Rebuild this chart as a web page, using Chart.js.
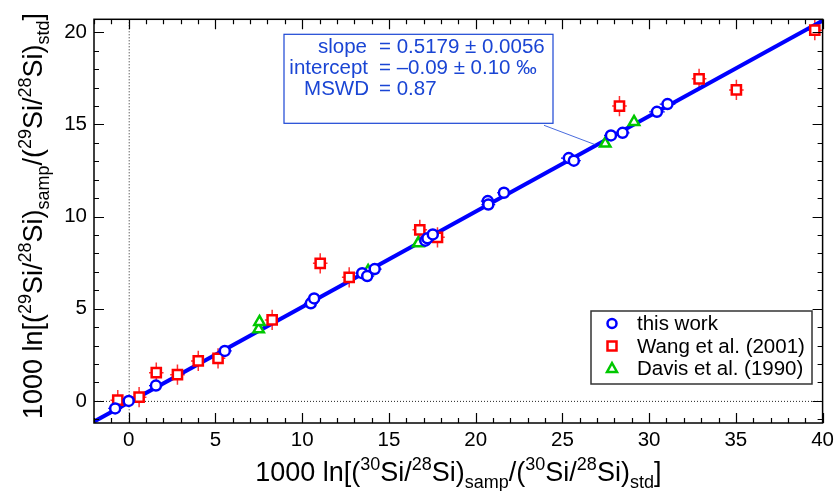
<!DOCTYPE html>
<html lang="en">
<head>
  <meta charset="UTF-8">
  <title>Si three-isotope plot</title>
  <script src="https://cdn.jsdelivr.net/npm/chart.js"></script>
  <style>
    body { margin: 0; background: #fff; }
    #wrap { width: 839px; height: 491px; }
  </style>
</head>
<body>
<div id="wrap"><canvas id="chart"></canvas></div>

<script>
// delta-30 (x) and delta-29 (y), per mil
const thisWorkX = [-0.78, 0.0, 1.57, 5.54, 10.5, 10.69, 13.46, 13.75, 14.18, 17.1, 17.22, 17.53, 20.7, 20.73, 21.63, 25.37, 25.66, 27.8, 28.47, 30.45, 31.06];
const thisWorkY = [-0.41, 0.0, 0.83, 2.71, 5.29, 5.56, 6.93, 6.77, 7.15, 8.69, 8.82, 9.03, 10.84, 10.65, 11.29, 13.17, 13.03, 14.4, 14.54, 15.68, 16.1];
const thisWorkErrX = [0.4, 0.4, 0.4, 0.4, 0.4, 0.4, 0.4, 0.4, 0.4, 0.4, 0.4, 0.4, 0.4, 0.4, 0.4, 0.45, 0.4, 0.4, 0.4, 0.45, 0.45];
const thisWorkErrY = [0.12, 0.12, 0.12, 0.12, 0.12, 0.12, 0.12, 0.12, 0.12, 0.12, 0.12, 0.12, 0.12, 0.12, 0.12, 0.12, 0.12, 0.12, 0.12, 0.12, 0.12];

const wangX = [-0.63, 0.6, 1.59, 2.81, 4.01, 5.15, 8.27, 11.04, 12.71, 16.78, 17.8, 28.29, 32.88, 35.03, 39.55];
const wangY = [0.04, 0.2, 1.53, 1.42, 2.17, 2.31, 4.39, 7.46, 6.7, 9.28, 8.87, 15.99, 17.47, 16.87, 20.11];
const wangErrX = [0.42, 0.42, 0.42, 0.42, 0.42, 0.42, 0.42, 0.42, 0.42, 0.42, 0.42, 0.42, 0.42, 0.42, 0.42];
const wangErrY = [0.55, 0.55, 0.55, 0.55, 0.55, 0.55, 0.55, 0.55, 0.55, 0.55, 0.55, 0.55, 0.55, 0.55, 0.55];

const davisX = [7.49, 7.54, 13.8, 16.69, 27.47, 29.13];
const davisY = [3.89, 4.28, 7.05, 8.55, 13.96, 15.13];

// regression through all points
const slope = 0.5179;
const intercept = -0.09;
const fitX = [-2, 40];

const xTicks = [0, 5, 10, 15, 20, 25, 30, 35, 40];
const yTicks = [0, 5, 10, 15, 20];
const xRange = [-2, 40];
const yRange = [-1.2, 20.7];

const FONT = '"Liberation Sans", Arial, Helvetica, sans-serif';
const BLUE = '#0000ff';
const RED = '#ff0000';
const GREEN = '#00c800';
const NOTE = '#1a45d4';

function pts(xs, ys) {
  return xs.map((x, i) => ({ x: x, y: ys[i] }));
}

// draw a string made of normal / sup / sub runs, centred on cx
function drawRich(ctx, parts, cx, baseY, size) {
  const small = Math.round(size * 0.68);
  let w = 0;
  parts.forEach(p => {
    ctx.font = (p[1] ? small : size) + 'px ' + FONT;
    w += ctx.measureText(p[0]).width;
  });
  let x = cx - w / 2;
  ctx.textAlign = 'left';
  ctx.textBaseline = 'alphabetic';
  parts.forEach(p => {
    ctx.font = (p[1] ? small : size) + 'px ' + FONT;
    let dy = 0;
    if (p[1] === 'sup') dy = -size * 0.42;
    if (p[1] === 'sub') dy = size * 0.26;
    ctx.fillText(p[0], x, baseY + dy);
    x += ctx.measureText(p[0]).width;
  });
}

const xTitle = [['1000 ln[(', ''], ['30', 'sup'], ['Si/', ''], ['28', 'sup'], ['Si)', ''], ['samp', 'sub'],
  ['/(', ''], ['30', 'sup'], ['Si/', ''], ['28', 'sup'], ['Si)', ''], ['std', 'sub'], [']', '']];
const yTitle = [['1000 ln[(', ''], ['29', 'sup'], ['Si/', ''], ['28', 'sup'], ['Si)', ''], ['samp', 'sub'],
  ['/(', ''], ['29', 'sup'], ['Si/', ''], ['28', 'sup'], ['Si)', ''], ['std', 'sub'], [']', '']];

function drawMarker(ctx, style, x, y, color) {
  ctx.save();
  ctx.strokeStyle = color;
  ctx.fillStyle = '#fff';
  ctx.lineWidth = 2.5;
  ctx.beginPath();
  if (style === 'circle') {
    ctx.arc(x, y, 4.5, 0, Math.PI * 2);
  } else if (style === 'rect') {
    ctx.rect(x - 4.5, y - 4.5, 9, 9);
  } else {
    ctx.moveTo(x, y - 5.5);
    ctx.lineTo(x + 5, y + 3.5);
    ctx.lineTo(x - 5, y + 3.5);
    ctx.closePath();
  }
  ctx.fill();
  ctx.stroke();
  ctx.restore();
}

const framePlugin = {
  id: 'frame',
  beforeDatasetsDraw(chart) {
    const { ctx, chartArea: a, scales: { x, y } } = chart;
    ctx.save();
    // zero lines
    ctx.strokeStyle = '#222';
    ctx.lineWidth = 1;
    ctx.setLineDash([1, 2]);
    ctx.beginPath();
    ctx.moveTo(x.getPixelForValue(0) + 0.5, a.top);
    ctx.lineTo(x.getPixelForValue(0) + 0.5, a.bottom);
    ctx.moveTo(a.left, y.getPixelForValue(0) + 0.5);
    ctx.lineTo(a.right, y.getPixelForValue(0) + 0.5);
    ctx.stroke();
    ctx.setLineDash([]);

    // error bars
    const bars = [
      [thisWorkX, thisWorkY, thisWorkErrX, thisWorkErrY, BLUE, 1.2],
      [wangX, wangY, wangErrX, wangErrY, '#ff3030', 1.5]
    ];
    bars.forEach(b => {
      ctx.strokeStyle = b[4];
      ctx.lineWidth = b[5];
      ctx.beginPath();
      b[0].forEach((vx, i) => {
        const vy = b[1][i];
        const px = x.getPixelForValue(vx), py = y.getPixelForValue(vy);
        ctx.moveTo(x.getPixelForValue(vx - b[2][i]), py);
        ctx.lineTo(x.getPixelForValue(vx + b[2][i]), py);
        ctx.moveTo(px, y.getPixelForValue(vy - b[3][i]));
        ctx.lineTo(px, y.getPixelForValue(vy + b[3][i]));
      });
      ctx.stroke();
    });
    ctx.restore();
  },
  afterDraw(chart) {
    const { ctx, chartArea: a, scales: { x, y } } = chart;
    ctx.save();
    // box round the plot
    ctx.strokeStyle = '#000';
    ctx.lineWidth = 1.5;
    ctx.strokeRect(a.left, a.top, a.right - a.left, a.bottom - a.top);

    // inward ticks on all four sides
    ctx.lineWidth = 1.2;
    ctx.beginPath();
    for (let v = Math.ceil(xRange[0]); v <= xRange[1]; v++) {
      const len = v % 5 === 0 ? 10 : 5;
      const px = Math.round(x.getPixelForValue(v)) + 0.5;
      ctx.moveTo(px, a.bottom); ctx.lineTo(px, a.bottom - len);
      ctx.moveTo(px, a.top); ctx.lineTo(px, a.top + len);
    }
    for (let v = Math.ceil(yRange[0]); v <= yRange[1]; v++) {
      const len = v % 5 === 0 ? 10 : 5;
      const py = Math.round(y.getPixelForValue(v)) + 0.5;
      ctx.moveTo(a.left, py); ctx.lineTo(a.left + len, py);
      ctx.moveTo(a.right, py); ctx.lineTo(a.right - len, py);
    }
    ctx.stroke();

    // axis titles
    ctx.fillStyle = '#000';
    drawRich(ctx, xTitle, (a.left + a.right) / 2, 481, 27);
    ctx.save();
    ctx.translate(42, 216);
    ctx.rotate(-Math.PI / 2);
    drawRich(ctx, yTitle, 0, 0, 27);
    ctx.restore();

    // fit statistics box with leader line to the regression
    const bx = a.left + 190, by = a.top + 15, bw = 269, bh = 89;
    ctx.strokeStyle = NOTE;
    ctx.lineWidth = 1.2;
    ctx.strokeRect(bx, by, bw, bh);
    ctx.lineWidth = 0.8;
    ctx.beginPath();
    ctx.moveTo(bx + bw - 9, by + bh + 2);
    ctx.lineTo(x.getPixelForValue(26.9), y.getPixelForValue(slope * 26.9 + intercept) - 1);
    ctx.stroke();
    ctx.fillStyle = NOTE;
    ctx.font = '20.5px ' + FONT;
    ctx.textBaseline = 'alphabetic';
    const rows = [
      ['slope', '= ' + slope.toFixed(4) + ' \u00b1 0.0056'],
      ['intercept', '= \u2013' + Math.abs(intercept).toFixed(2) + ' \u00b1 0.10 \u2030'],
      ['MSWD', '= 0.87']
    ];
    rows.forEach((r, i) => {
      const ty = by + 19 + i * 21;
      ctx.textAlign = 'right';
      ctx.fillText(r[0], bx + 83 + i, ty);
      ctx.textAlign = 'left';
      ctx.fillText(r[1], bx + 95, ty);
    });

    // legend
    const lx = 591, ly = 311, lw = 221, lh = 73;
    ctx.strokeStyle = '#333';
    ctx.lineWidth = 1.5;
    ctx.fillStyle = '#fff';
    ctx.fillRect(lx, ly, lw, lh);
    ctx.strokeRect(lx, ly, lw, lh);
    const items = [
      ['circle', BLUE, 'this work'],
      ['rect', RED, 'Wang et al. (2001)'],
      ['triangle', GREEN, 'Davis et al. (1990)']
    ];
    ctx.font = '20.5px ' + FONT;
    items.forEach((it, i) => {
      const cy = ly + 12.5 + i * 22.5;
      drawMarker(ctx, it[0], lx + 21, cy, it[1]);
      ctx.fillStyle = '#000';
      ctx.textAlign = 'left';
      ctx.textBaseline = 'middle';
      ctx.fillText(it[2], lx + 46, cy + 1);
    });
    ctx.restore();
  }
};

new Chart(document.getElementById('chart'), {
  type: 'scatter',
  data: {
    datasets: [
      {
        label: 'fit',
        type: 'line',
        data: fitX.map(v => ({ x: v, y: slope * v + intercept })),
        borderColor: BLUE,
        borderWidth: 4,
        pointRadius: 0,
        order: 10
      },
      {
        label: 'Wang et al. (2001)',
        data: pts(wangX, wangY),
        pointStyle: 'rect',
        pointRadius: 6.5,
        borderColor: RED,
        backgroundColor: '#fff',
        borderWidth: 2.5,
        order: 3
      },
      {
        label: 'Davis et al. (1990)',
        data: pts(davisX, davisY),
        pointStyle: 'triangle',
        pointRadius: 6,
        borderColor: GREEN,
        backgroundColor: '#fff',
        borderWidth: 2.5,
        order: 2
      },
      {
        label: 'this work',
        data: pts(thisWorkX, thisWorkY),
        pointStyle: 'circle',
        pointRadius: 5,
        borderColor: BLUE,
        backgroundColor: '#fff',
        borderWidth: 2.5,
        order: 1
      }
    ]
  },
  options: {
    responsive: true,
    maintainAspectRatio: false,
    animation: false,
    layout: { padding: { top: 15, right: 10, left: 0, bottom: 0 } },
    plugins: {
      legend: { display: false },
      tooltip: { enabled: false }
    },
    scales: {
      x: {
        type: 'linear',
        min: xRange[0],
        max: xRange[1],
        afterBuildTicks: s => { s.ticks = xTicks.map(v => ({ value: v })); },
        afterFit: s => { s.height = 68; },
        grid: { display: false, drawTicks: false },
        border: { display: false },
        ticks: { color: '#000', padding: 5, maxRotation: 0, font: { family: FONT, size: 20.5 } }
      },
      y: {
        type: 'linear',
        min: yRange[0],
        max: yRange[1],
        afterBuildTicks: s => { s.ticks = yTicks.map(v => ({ value: v })); },
        afterFit: s => { s.width = 94; },
        grid: { display: false, drawTicks: false },
        border: { display: false },
        ticks: { color: '#000', padding: 7, font: { family: FONT, size: 20.5 } }
      }
    }
  },
  plugins: [framePlugin]
});
</script>
</body>
</html>
